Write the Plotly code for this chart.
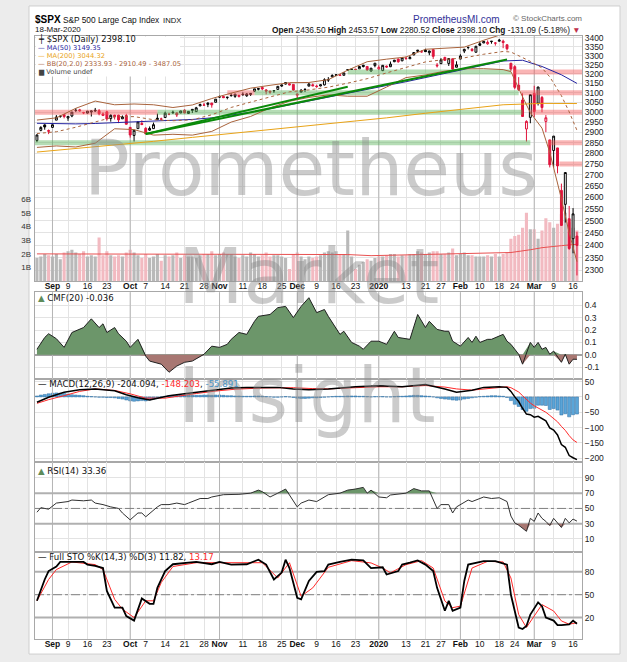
import numpy as np
import pandas as pd
import plotly.graph_objects as go

W, H = 627, 662

# trading days on the chart (market holidays removed)
HOLIDAYS = ["2019-11-28", "2019-12-25", "2020-01-01", "2020-01-20", "2020-02-17"]
DAYS = [d for d in pd.bdate_range("2019-08-28", "2020-03-18")
        if d.strftime("%Y-%m-%d") not in HOLIDAYS]
IDX = list(range(len(DAYS)))

OPEN = [2861.3, 2910.4, 2937.1, 2909.0, 2924.7, 2960.6, 2980.3, 2988.4, 2971.0, 2981.4,
        3009.1, 3012.2, 2996.4, 2995.7, 3001.5, 3010.4, 3008.4, 2983.5, 3002.4, 2968.4,
        2985.7, 2985.5, 2967.1, 2983.7, 2924.8, 2885.4, 2918.6, 2944.2, 2920.4, 2911.1,
        2918.6, 2963.1, 2965.8, 2973.6, 2989.7, 3000.8, 2996.8, 2996.5, 3010.7, 2994.0,
        3014.8, 3003.3, 3032.1, 3035.4, 3039.7, 3046.9, 3050.7, 3078.9, 3080.8, 3075.1,
        3087.0, 3081.3, 3080.3, 3089.3, 3084.2, 3090.8, 3107.9, 3117.9, 3127.5, 3114.7,
        3108.5, 3111.4, 3117.4, 3134.9, 3145.5, 3147.2, 3143.9, 3087.4, 3103.5, 3119.2,
        3134.6, 3141.9, 3135.4, 3135.8, 3141.2, 3166.7, 3183.6, 3195.4, 3195.2, 3192.3,
        3223.3, 3226.1, 3225.5, 3227.2, 3247.2, 3240.1, 3215.2, 3244.7, 3226.4, 3217.6,
        3241.9, 3238.6, 3266.0, 3281.0, 3271.1, 3285.4, 3282.3, 3303.0, 3323.7, 3321.0,
        3330.0, 3315.8, 3333.1, 3247.2, 3255.4, 3289.5, 3256.5, 3282.3, 3235.7, 3280.6,
        3324.9, 3344.9, 3335.5, 3318.3, 3365.9, 3370.5, 3365.9, 3378.1, 3369.0, 3380.4,
        3380.5, 3360.5, 3257.6, 3238.9, 3139.9, 3062.5, 2916.9, 2974.3, 3096.5, 3045.8,
        3075.7, 2954.2, 2863.9, 2813.5, 2825.6, 2630.9, 2570.0, 2508.6, 2425.7, 2436.5]
HIGH = [2890.0, 2930.5, 2940.4, 2914.4, 2938.8, 2985.9, 2985.0, 2989.4, 2979.4, 3000.9,
        3020.7, 3017.3, 3002.2, 3006.2, 3007.8, 3021.9, 3016.4, 2999.2, 3007.3, 2989.8,
        2987.3, 2987.3, 2983.9, 2992.5, 2924.8, 2911.1, 2953.7, 2959.8, 2925.5, 2929.3,
        2948.5, 2993.3, 2972.8, 3003.3, 2997.5, 3008.3, 3000.0, 3007.3, 3014.6, 3004.8,
        3016.1, 3027.4, 3044.1, 3047.9, 3050.1, 3046.9, 3066.9, 3085.2, 3083.9, 3078.3,
        3097.8, 3093.1, 3088.3, 3102.6, 3098.1, 3098.2, 3120.5, 3124.2, 3127.6, 3118.9,
        3110.1, 3112.9, 3133.8, 3142.7, 3154.3, 3150.3, 3144.3, 3094.1, 3119.4, 3119.5,
        3150.6, 3148.9, 3142.1, 3143.9, 3176.3, 3182.7, 3197.7, 3198.2, 3198.5, 3205.5,
        3225.7, 3227.8, 3226.4, 3240.1, 3247.9, 3240.9, 3231.7, 3258.1, 3246.2, 3246.8,
        3244.9, 3267.1, 3275.6, 3282.9, 3288.1, 3294.3, 3298.7, 3317.1, 3329.9, 3329.8,
        3337.8, 3326.9, 3333.2, 3258.8, 3285.8, 3293.5, 3285.9, 3282.3, 3268.4, 3306.9,
        3337.6, 3348.0, 3341.4, 3352.3, 3375.6, 3381.5, 3385.1, 3380.7, 3375.0, 3393.5,
        3389.2, 3360.8, 3259.8, 3247.0, 3182.5, 3097.1, 2959.7, 3091.0, 3136.7, 3131.0,
        3083.0, 2985.9, 2863.9, 2882.6, 2825.6, 2661.0, 2711.3, 2563.0, 2553.9, 2453.6]
LOW = [2853.1, 2905.7, 2913.3, 2891.9, 2921.9, 2960.6, 2972.5, 2969.4, 2957.0, 2975.3,
       3000.9, 3002.9, 2990.7, 2993.7, 2978.6, 3003.2, 2984.7, 2982.2, 2957.7, 2952.9,
       2963.7, 2945.5, 2967.1, 2938.7, 2874.9, 2855.9, 2918.6, 2935.7, 2892.7, 2907.4,
       2917.1, 2963.1, 2962.9, 2973.6, 2985.2, 2991.8, 2976.3, 2995.4, 2995.0, 2991.2,
       2996.0, 3001.9, 3032.1, 3034.8, 3025.9, 3023.2, 3050.7, 3074.9, 3072.2, 3065.9,
       3080.2, 3073.6, 3075.8, 3084.7, 3078.8, 3083.3, 3104.6, 3112.1, 3113.5, 3091.4,
       3094.6, 3099.3, 3117.4, 3131.0, 3143.4, 3139.3, 3110.8, 3070.3, 3102.5, 3103.8,
       3134.6, 3135.5, 3126.1, 3133.2, 3138.5, 3156.5, 3183.6, 3191.0, 3191.1, 3192.3,
       3216.0, 3222.3, 3220.5, 3227.2, 3234.4, 3216.6, 3212.0, 3235.5, 3222.3, 3214.6,
       3232.4, 3236.7, 3263.7, 3260.9, 3268.4, 3277.2, 3280.7, 3302.8, 3318.9, 3316.6,
       3320.0, 3301.9, 3281.5, 3234.5, 3253.2, 3271.9, 3242.8, 3214.7, 3235.7, 3280.6,
       3313.8, 3334.4, 3322.1, 3317.8, 3352.7, 3369.7, 3360.5, 3366.2, 3355.6, 3378.8,
       3341.0, 3328.5, 3214.7, 3118.8, 3109.0, 2977.4, 2855.8, 2945.2, 2976.6, 3034.4,
       2999.8, 2901.5, 2734.4, 2734.0, 2707.2, 2478.9, 2492.4, 2380.9, 2367.0, 2280.5]
CLOSE = [2887.9, 2924.6, 2926.5, 2906.3, 2937.8, 2976.0, 2978.7, 2978.4, 2979.4, 3000.9,
         3009.6, 3007.4, 2998.0, 3005.7, 3006.7, 3006.8, 2992.1, 2991.8, 2966.6, 2984.9,
         2977.6, 2961.8, 2976.7, 2940.3, 2887.6, 2910.6, 2952.0, 2938.8, 2893.1, 2919.4,
         2938.1, 2970.3, 2966.2, 2995.7, 2989.7, 2998.0, 2986.2, 3006.7, 2996.0, 3004.5,
         3010.3, 3022.6, 3039.4, 3036.9, 3046.8, 3037.6, 3066.9, 3078.3, 3074.6, 3076.8,
         3085.2, 3093.1, 3087.0, 3091.8, 3094.0, 3096.6, 3120.5, 3122.0, 3120.2, 3108.5,
         3103.5, 3110.3, 3133.6, 3140.5, 3153.6, 3141.0, 3113.9, 3093.2, 3112.8, 3117.4,
         3145.9, 3136.0, 3132.5, 3141.6, 3168.6, 3168.8, 3191.5, 3192.5, 3191.1, 3205.4,
         3221.2, 3224.0, 3223.4, 3239.9, 3240.0, 3221.3, 3230.8, 3257.9, 3234.9, 3246.3,
         3237.2, 3253.1, 3274.7, 3265.4, 3288.1, 3283.2, 3289.3, 3316.8, 3329.6, 3320.8,
         3321.8, 3325.5, 3295.5, 3243.6, 3276.2, 3273.4, 3283.7, 3225.5, 3248.9, 3297.6,
         3334.7, 3345.8, 3327.7, 3352.1, 3357.8, 3379.5, 3373.9, 3380.2, 3370.3, 3386.2,
         3373.2, 3337.8, 3225.9, 3128.2, 3116.4, 2978.8, 2954.2, 3090.2, 3003.4, 3130.1,
         3023.9, 2972.4, 2746.6, 2882.2, 2741.4, 2480.6, 2711.0, 2386.1, 2529.2, 2398.1]

# volume in billions
VOLUME = [1.7, 1.8, 2.0, 1.9, 1.8, 2.0, 1.6, 2.1, 2.2, 2.3,
          2.1, 2.0, 2.2, 1.8, 1.9, 1.8, 3.2, 1.9, 2.2, 1.9,
          1.8, 1.9, 1.8, 2.1, 2.3, 2.1, 1.9, 1.7, 2.0, 1.7,
          1.8, 2.0, 1.5, 1.9, 1.8, 1.9, 2.1, 1.7, 1.9, 1.8,
          1.8, 1.7, 1.9, 2.0, 2.0, 2.2, 1.9, 2.0, 2.1, 2.0,
          2.0, 1.8, 1.7, 1.9, 1.8, 2.1, 2.0, 1.8, 1.9, 2.1,
          1.8, 1.9, 1.9, 1.8, 1.7, 0.9, 2.0, 2.1, 1.8, 1.6,
          1.8, 1.7, 1.8, 1.9, 2.1, 2.2, 2.1, 2.2, 2.0, 2.0,
          3.7, 1.8, 0.9, 1.2, 1.4, 1.6, 1.5, 1.7, 1.8, 1.8,
          1.9, 2.0, 2.0, 1.8, 1.9, 1.9, 2.0, 2.0, 2.2, 2.1,
          2.0, 2.1, 2.2, 2.2, 2.0, 2.0, 2.1, 2.4, 1.9, 2.0,
          2.1, 1.9, 1.9, 1.8, 1.8, 1.8, 1.9, 1.8, 2.0, 1.8,
          2.0, 2.1, 3.1, 3.3, 3.4, 3.9, 5.0, 3.8, 3.8, 3.1,
          3.7, 4.6, 4.3, 3.9, 4.2, 4.9, 5.0, 4.3, 3.9, 3.7]
VMA_IDX = [0, 40, 80, 86, 100, 110, 122, 127, 130, 135, 139]
VMA = [2.0, 2.0, 1.95, 1.87, 1.95, 2.05, 2.1, 2.3, 2.45, 2.6, 2.7]

MA50_IDX = [0, 5, 10, 15, 20, 25, 30, 35, 40, 45, 50, 55, 60, 65, 70, 75, 80, 85, 90, 95,
            100, 105, 110, 115, 120, 125, 130, 135, 139]
MA50 = [2945, 2942, 2942, 2944, 2948, 2950, 2953, 2958, 2964, 2972, 2985, 3000, 3018, 3038,
        3058, 3080, 3100, 3120, 3138, 3158, 3180, 3200, 3222, 3245, 3270, 3274, 3240, 3195, 3149.35]
MA200_IDX = [0, 10, 20, 30, 40, 50, 60, 70, 80, 90, 100, 110, 120, 130, 139]
MA200 = [2806, 2822, 2840, 2857, 2876, 2895, 2913, 2931, 2950, 2972, 2995, 3018, 3038, 3045, 3044.32]

BB_IDX = [0, 5, 10, 15, 20, 25, 30, 35, 40, 45, 50, 55, 60, 65, 70, 75, 80, 85, 90, 95,
          100, 105, 110, 115, 120, 122, 125, 127, 130, 132, 135, 137, 139]
BB_UP = [2961, 2972, 3020, 3057, 3038, 3042, 3038, 3024, 3037, 3070, 3098, 3124, 3139, 3153,
         3154, 3169, 3220, 3266, 3280, 3292, 3335, 3341, 3347, 3386, 3422, 3428, 3504, 3538,
         3542, 3563, 3575, 3554, 3487.05]
BB_MID = [2894.7, 2903.4, 2925.4, 2952.4, 2977.8, 2978.1, 2962.8, 2957.6, 2962.1, 2987.4,
          3024.4, 3051.6, 3080.1, 3104.9, 3115.0, 3129.2, 3150.6, 3174.1, 3205.2, 3236.1,
          3264.9, 3278.2, 3287.4, 3307.3, 3322.6, 3319.7, 3291.2, 3268.0, 3231.8, 3184.1,
          3084.8, 3001.9, 2910.49]
BB_LO = [2828, 2835, 2830, 2848, 2918, 2914, 2887, 2891, 2887, 2905, 2951, 2979, 3022, 3056,
         3076, 3089, 3082, 3082, 3130, 3180, 3194, 3215, 3227, 3228, 3223, 3212, 3079, 2998,
         2921, 2805, 2594, 2450, 2333.93]

# drawn support / resistance zones and trend lines
BAND_LEVEL = [3210, 3100, 3000, 2850, 3000, 3100, 3210, 3100, 3000, 2850, 2750]
BAND_START = [80, 56, 31, -0.5, -0.5, 49, 122.5, 124.5, 127, 131.5, 134.5]
BAND_END = [122, 124, 125, 127, 31, 56, 140.3, 140.3, 140.3, 140.3, 140.3]
BAND_KIND = ["g", "g", "g", "g", "r", "r", "r", "r", "r", "r", "r"]
TREND_A_IDX = [28, 121]
TREND_A_PX = [2892.7, 3278]
TREND_B_IDX = [28, 80]
TREND_B_PX = [2892.7, 3131]

CMF_IDX = [0, 2, 3, 5, 7, 9, 12, 14, 16, 17, 18, 20, 21, 23, 24, 26, 28, 29, 32, 34,
           36, 38, 40, 43, 45, 47, 49, 50, 52, 54, 56, 57, 60, 62, 64, 66, 68, 70, 72, 74,
           75, 78, 79, 81, 83, 84, 86, 88, 90, 92, 93, 96, 98, 100, 101, 103, 105, 106, 107, 109,
           111, 112, 113, 114, 116, 117, 120, 121, 122, 124, 125, 127, 128, 129, 130, 131, 132, 133, 135, 136,
           137, 138, 139]
CMF = [0.045, 0.14, 0.17, 0.13, 0.06, 0.18, 0.22, 0.29, 0.22, 0.25, 0.18, 0.22, 0.17, 0.11, 0.06,
       0.125, -0.01, -0.05, -0.075, -0.14, -0.09, -0.06, -0.05, 0.005, 0.07, 0.06, 0.085, 0.125,
       0.18, 0.165, 0.27, 0.31, 0.325, 0.38, 0.39, 0.30, 0.39, 0.46, 0.34, 0.365, 0.31, 0.165,
       0.19, 0.10, 0.07, 0.045, 0.11, 0.11, 0.085, 0.19, 0.14, 0.125, 0.325, 0.22, 0.27, 0.205,
       0.19, 0.19, 0.11, 0.07, 0.14, 0.10, 0.15, 0.10, 0.125, 0.125, 0.165, 0.11, 0.085, 0.005,
       -0.075, 0.10, 0.06, 0.10, 0.045, 0.06, 0.005, 0.03, -0.06, 0.005, -0.075, -0.035, -0.036]

MACD_IDX = [0, 3, 7, 11, 15, 20, 23, 26, 29, 32, 34, 38, 41, 45, 50, 54, 58, 62, 66, 70,
            75, 82, 88, 94, 100, 105, 108, 112, 115, 119, 121, 122, 123, 124, 125, 126, 127, 128,
            129, 130, 131, 132, 133, 134, 135, 136, 137, 138, 139]
MACD = [-17.5, -1, 15, 23, 26, 20, 7, -3, -10, -2, 4, 10, 15, 22, 29, 31, 31, 31, 26, 23,
        26, 33, 36, 33, 40, 26, 15, 22, 31, 33, 31, 18, 0, -15, -37, -56, -58, -66, -63, -70,
        -78, -101, -108, -124, -155, -164, -191, -198, -204.094]
SIG_IDX = [0, 3, 7, 11, 15, 20, 24, 28, 33, 37, 41, 46, 51, 58, 66, 71, 75, 82, 88, 94,
           100, 105, 108, 112, 116, 120, 121, 122, 123, 124, 125, 126, 127, 128, 129, 130, 131,
           132, 133, 134, 135, 136, 137, 138, 139]
SIGNAL = [-21, -9, 4, 18, 26, 21, 10, -4, -4, 4, 11, 19, 25, 29, 30, 27, 26, 30, 33, 33,
          37, 32, 26, 22, 27, 31, 33, 30, 24, 16, 4, -9, -20, -29, -36, -43, -50, -60, -70,
          -81, -96, -109, -126, -140, -148.203]
HIST = [3, 6, 8, 10, 12, 13, 12, 11, 9,
        7, 6, 5, 4, 2, 1, 0, -1, -1, -2, -2, -3,
        -5, -7, -10, -13, -14, -13, -12, -13, -10, -7,
        -3, 0, 2, 4, 5, 5, 5, 6, 6, 5, 5, 5, 6, 6, 5,
        6, 6, 5, 4, 4, 3, 3, 2, 2, 2, 3, 3, 2, 1, 0,
        -1, -1, 0, 1, 0, -2, -4, -5, -5, -4, -3, -3, -2, -1, 0,
        1, 2, 2, 2, 3, 3, 3, 2, 2, 1, 0, 1, 1, 1, 0, 0, 1, 2, 2, 3, 4, 5, 5, 4, 3, 2, 0,
        -3, -5, -7, -8, -10, -11, -10, -7, -5, -3, -1,
        1, 2, 3, 4, 4, 3, 2,
        -2, -12, -24, -31, -41, -47, -38, -37, -27, -27, -28, -41, -38, -43, -59, -55, -65, -58, -55.891]

RSI_IDX = [0, 1, 3, 5, 8, 9, 12, 14, 15, 17, 19, 21, 22, 24, 26, 27, 28, 31, 32, 34,
           36, 38, 39, 42, 44, 45, 48, 50, 52, 55, 57, 58, 60, 62, 64, 65, 67, 68, 70, 72,
           74, 75, 78, 80, 82, 84, 85, 86, 88, 90, 91, 93, 95, 97, 99, 101, 103, 104, 106, 107,
           108, 111, 112, 115, 117, 119, 121, 122, 123, 124, 125, 126, 127, 128, 129, 130, 131, 132, 133, 134,
           135, 136, 137, 138, 139]
RSI = [45, 51, 49, 57, 59, 61, 60, 61, 57, 55, 52, 50, 44, 35, 44, 44, 39, 52, 55, 55,
       57, 55, 57, 63, 63, 65, 68, 68, 68.5, 70, 74, 72, 65, 70, 75.4, 67.6, 52, 57, 61, 59,
       65, 68, 70, 74, 75.4, 77.6, 70, 74, 65, 64, 67.6, 68.5, 70, 76, 73, 73, 50, 55, 55, 44,
       52, 61, 59, 65, 63, 64, 59, 40, 31, 28, 24, 20, 37, 33, 44, 37, 33, 27.6, 37, 31,
       25, 37, 31, 36, 33.36]

K_IDX = [0, 2, 3, 5, 6, 9, 12, 13, 15, 17, 18, 20, 22, 23, 25, 27, 29, 30, 31, 33,
         35, 39, 41, 45, 47, 50, 54, 57, 59, 61, 63, 64, 65, 67, 68, 70, 72, 74, 75, 78,
         81, 84, 86, 89, 90, 93, 94, 96, 98, 100, 102, 103, 105, 106, 107, 109, 110, 111, 113, 115,
         118, 121, 122, 124, 125, 126, 127, 129, 130, 131, 133, 134, 135, 137, 138, 139]
STO_K = [42, 70, 81, 87, 93, 93, 93, 89.5, 88, 85, 55, 33, 33, 22, 16, 45, 38, 38, 59, 81,
         90, 92, 93, 90, 93, 89.5, 90, 96, 89.5, 70, 79, 96, 85, 46, 44, 68, 80, 81, 89.5, 93,
         96, 95, 85, 86, 76.5, 81, 89.5, 92, 95, 89.5, 81, 59, 29, 42, 29, 33, 68, 89.5, 92, 94,
         94, 89.5, 50, 7, 5, 9, 24, 40, 35, 20, 16, 10, 10, 11, 16, 11.82]
D_IDX = [0, 3, 5, 9, 15, 17, 20, 22, 25, 28, 30, 32, 35, 41, 58, 62, 65, 68, 71, 74,
         75, 81, 86, 89, 91, 95, 99, 102, 105, 107, 109, 112, 116, 120, 122, 124, 126, 128, 130, 133,
         135, 137, 139]
STO_D = [42, 70, 83, 93, 89.5, 83, 44, 31, 20, 42, 42, 66, 87, 92, 92, 72, 92, 48, 59, 79,
         86, 94.7, 91.7, 85, 78.7, 89.5, 94.7, 85, 41.7, 33, 35, 85, 93.8, 93, 72, 24, 7, 22, 37, 28.6,
         15.6, 11.3, 13.17]

TICK_DATES = ["2019-09-03", "2019-09-09", "2019-09-16", "2019-09-23", "2019-10-01", "2019-10-07",
              "2019-10-14", "2019-10-21", "2019-10-28", "2019-11-01", "2019-11-11", "2019-11-18",
              "2019-11-25", "2019-12-02", "2019-12-09", "2019-12-16", "2019-12-23", "2020-01-02",
              "2020-01-13", "2020-01-21", "2020-01-27", "2020-02-03", "2020-02-10", "2020-02-18",
              "2020-02-24", "2020-03-02", "2020-03-09", "2020-03-16"]
TICK_TEXT = ["Sep", "9", "16", "23", "Oct", "7", "14", "21", "28", "Nov", "11", "18", "25", "Dec",
             "9", "16", "23", "2020", "13", "21", "27", "Feb", "10", "18", "24", "Mar", "9", "16"]
MONTH_LABELS = {"Sep", "Oct", "Nov", "Dec", "2020", "Feb", "Mar"}

# colours / fonts
SANS = "Liberation Sans, Arial, sans-serif"
VERD = "DejaVu Sans, Verdana, sans-serif"
GRID = "#e3e3e3"
MONTH_GRID = "#b4b4b4"
BORDER = "#a8a8a8"
RED = "#e0143c"
GREEN_FILL = "#6c966a"
BROWN_FILL = "#a87772"

# pixel layout of the panels
XL, XR = 35, 582
XRANGE = [-0.5, 140.3]


def px(v):
    return v / W


def py(v):
    return 1 - v / H


day_pos = {d.strftime("%Y-%m-%d"): i for i, d in enumerate(DAYS)}
tick_idx = [day_pos[d] for d in TICK_DATES]
tick_lbl = ["<b>%s</b>" % t if t in MONTH_LABELS else t for t in TICK_TEXT]
month_idx = [i for i, t in zip(tick_idx, TICK_TEXT) if t in MONTH_LABELS]

prev = [CLOSE[0]] + CLOSE[:-1]
up = [c >= p for c, p in zip(CLOSE, prev)]

fig = go.Figure()


def month_lines(xa, ya, lo, hi):
    # darker vertical line at each month start, under the panel's marks
    xs, ys = [], []
    for m in month_idx:
        xs += [m, m, None]
        ys += [lo, hi, None]
    fig.add_trace(go.Scatter(x=xs, y=ys, mode="lines", line=dict(color=MONTH_GRID, width=1),
                             xaxis=xa, yaxis=ya, hoverinfo="skip"))


def level_line(ya, lvl, color, width, dash="solid"):
    fig.add_trace(go.Scatter(x=XRANGE, y=[lvl, lvl], mode="lines",
                             line=dict(color=color, width=width, dash=dash),
                             xaxis="x", yaxis=ya, hoverinfo="skip"))


# price panel: volume on the left axis
month_lines("x", "y", -1, 20)
fig.add_trace(go.Bar(x=IDX, y=VOLUME, width=0.8,
                     marker=dict(color=["#b9b9b9" if u else "#f2bac1" for u in up], line_width=0),
                     xaxis="x", yaxis="y", hoverinfo="skip"))
fig.add_trace(go.Scatter(x=VMA_IDX, y=VMA, mode="lines", line=dict(color="#e85050", width=1),
                         xaxis="x", yaxis="y", hoverinfo="skip"))

for lvl, a, b, k in zip(BAND_LEVEL, BAND_START, BAND_END, BAND_KIND):
    col = "rgba(90,180,90,0.45)" if k == "g" else "rgba(245,90,90,0.45)"
    fig.add_trace(go.Scatter(x=[a, b], y=[lvl, lvl], mode="lines", line=dict(color=col, width=5),
                             xaxis="x", yaxis="y2", hoverinfo="skip"))

fig.add_trace(go.Scatter(x=MA200_IDX, y=MA200, mode="lines", line=dict(color="#e8a317", width=1),
                         xaxis="x", yaxis="y2", hoverinfo="skip"))
fig.add_trace(go.Scatter(x=MA50_IDX, y=MA50, mode="lines", line=dict(color="#2424a0", width=1),
                         xaxis="x", yaxis="y2", hoverinfo="skip"))
for band, dash in ((BB_UP, "solid"), (BB_LO, "solid"), (BB_MID, "dot")):
    fig.add_trace(go.Scatter(x=BB_IDX, y=band, mode="lines",
                             line=dict(color="#a8633c", width=1, dash=dash),
                             xaxis="x", yaxis="y2", hoverinfo="skip"))
for tx, ty in ((TREND_A_IDX, TREND_A_PX), (TREND_B_IDX, TREND_B_PX)):
    fig.add_trace(go.Scatter(x=tx, y=ty, mode="lines", line=dict(color="#0a8a0a", width=2),
                             xaxis="x", yaxis="y2", hoverinfo="skip"))

# candles: black when close >= previous close, red otherwise; hollow when close > open
for col, keep in (("#000000", up), (RED, [not u for u in up])):
    sel = lambda arr: [v if k else None for v, k in zip(arr, keep)]
    fig.add_trace(go.Candlestick(
        x=IDX, open=sel(OPEN), high=sel(HIGH), low=sel(LOW), close=sel(CLOSE),
        increasing=dict(line=dict(color=col, width=1), fillcolor="white"),
        decreasing=dict(line=dict(color=col, width=1), fillcolor=col),
        xaxis="x", yaxis="y2", hoverinfo="skip"))

# CMF
month_lines("x2", "y3", -1, 1)
fig.add_trace(go.Scatter(x=CMF_IDX, y=[max(v, 0) for v in CMF], mode="lines", line=dict(width=0),
                         fill="tozeroy", fillcolor=GREEN_FILL, xaxis="x2", yaxis="y3", hoverinfo="skip"))
fig.add_trace(go.Scatter(x=CMF_IDX, y=[min(v, 0) for v in CMF], mode="lines", line=dict(width=0),
                         fill="tozeroy", fillcolor=BROWN_FILL, xaxis="x2", yaxis="y3", hoverinfo="skip"))
fig.add_trace(go.Scatter(x=CMF_IDX, y=CMF, mode="lines", line=dict(color="#202020", width=1),
                         xaxis="x2", yaxis="y3", hoverinfo="skip"))

# MACD
month_lines("x", "y4", -300, 100)
fig.add_trace(go.Bar(x=IDX, y=HIST, width=0.8,
                     marker=dict(color="#5aa5d8", line=dict(color="#2a6aa0", width=0.5)),
                     xaxis="x", yaxis="y4", hoverinfo="skip"))
fig.add_trace(go.Scatter(x=SIG_IDX, y=SIGNAL, mode="lines", line=dict(color="#ff2a2a", width=1),
                         xaxis="x", yaxis="y4", hoverinfo="skip"))
fig.add_trace(go.Scatter(x=MACD_IDX, y=MACD, mode="lines", line=dict(color="#000000", width=1.5),
                         xaxis="x", yaxis="y4", hoverinfo="skip"))

# RSI with overbought / oversold shading
month_lines("x", "y5", -20, 120)
level_line("y5", 70, "#b0b0b0", 2)
level_line("y5", 30, "#b0b0b0", 2)
level_line("y5", 50, "#808080", 1, "dashdot")
for lvl, clip, col in ((70, max, GREEN_FILL), (30, min, BROWN_FILL)):
    fig.add_trace(go.Scatter(x=RSI_IDX, y=[lvl] * len(RSI_IDX), mode="lines", line=dict(width=0),
                             xaxis="x", yaxis="y5", hoverinfo="skip"))
    fig.add_trace(go.Scatter(x=RSI_IDX, y=[clip(v, lvl) for v in RSI], mode="lines",
                             line=dict(width=0), fill="tonexty", fillcolor=col,
                             xaxis="x", yaxis="y5", hoverinfo="skip"))
fig.add_trace(go.Scatter(x=RSI_IDX, y=RSI, mode="lines", line=dict(color="#303030", width=1),
                         xaxis="x", yaxis="y5", hoverinfo="skip"))

# Full stochastics
month_lines("x", "y6", -20, 120)
level_line("y6", 80, "#b0b0b0", 2)
level_line("y6", 20, "#b0b0b0", 2)
level_line("y6", 50, "#808080", 1, "dashdot")
fig.add_trace(go.Scatter(x=D_IDX, y=STO_D, mode="lines", line=dict(color="#ff2a2a", width=1),
                         xaxis="x", yaxis="y6", hoverinfo="skip"))
fig.add_trace(go.Scatter(x=K_IDX, y=STO_K, mode="lines", line=dict(color="#000000", width=1.8),
                         xaxis="x", yaxis="y6", hoverinfo="skip"))

tickfont = dict(family=SANS, size=8.5, color="#222")
yax = dict(showline=True, linecolor=BORDER, linewidth=1, mirror=True, ticks="", showgrid=True,
           gridcolor=GRID, gridwidth=1, zeroline=False, tickfont=tickfont, fixedrange=True,
           side="right", tickmode="array")
xax = dict(range=XRANGE, showline=True, linecolor=BORDER, linewidth=1, mirror="all", ticks="",
           showgrid=True, gridcolor=GRID, tickmode="array", tickvals=tick_idx, ticktext=tick_lbl,
           tickfont=dict(family=SANS, size=8.5, color="#111"), zeroline=False, fixedrange=True)

price_ticks = list(range(2300, 3401, 50))
fig.update_layout(
    width=W, height=H, autosize=False, margin=dict(l=0, r=0, t=0, b=0),
    paper_bgcolor="#ececec", plot_bgcolor="rgba(0,0,0,0)", showlegend=False,
    barmode="overlay",
    xaxis=dict(xax, domain=[px(XL), px(XR)], anchor="y6", rangeslider=dict(visible=False),
               ticklabelstandoff=-3),
    xaxis2=dict(xax, domain=[px(XL), px(XR)], anchor="y3", side="top", matches="x",
                ticklabelstandoff=-1),
    yaxis=dict(domain=[py(280), py(33)], range=[0, 17.9], side="left", showgrid=False,
               showline=False, zeroline=False, ticks="", tickmode="array",
               tickvals=[1, 2, 3, 4, 5, 6], ticktext=["1B", "2B", "3B", "4B", "5B", "6B"],
               tickfont=dict(family=SANS, size=8, color="#333"), anchor="x", fixedrange=True,
               ticklabelstandoff=3),
    yaxis2=dict(yax, overlaying="y", anchor="x", type="log", range=[3.35375, 3.53293],
                tickvals=price_ticks, ticktext=[str(v) for v in price_ticks]),
    yaxis3=dict(yax, domain=[py(378), py(291)], anchor="x2", range=[-0.192, 0.504],
                tickvals=[0.4, 0.3, 0.2, 0.1, 0.0, -0.1],
                ticktext=["0.4", "0.3", "0.2", "0.1", "0.0", "-0.1"],
                zeroline=True, zerolinecolor="#a0a0a0", zerolinewidth=2),
    yaxis4=dict(yax, domain=[py(462), py(378)], anchor="x", range=[-212.6, 59.2],
                tickvals=[50, 0, -50, -100, -150, -200]),
    yaxis5=dict(yax, domain=[py(552), py(462)], anchor="x", range=[-6.7, 110.6],
                tickvals=[90, 70, 50, 30, 10]),
    yaxis6=dict(yax, domain=[py(640), py(552)], anchor="x", range=[-8.3, 106.5],
                tickvals=[80, 50, 20]),
)

fig.update_layout(shapes=[
    dict(type="rect", xref="paper", yref="paper", x0=px(29), x1=px(620), y0=py(655), y1=py(3),
         fillcolor="white", line=dict(color="#cfcfcf", width=1), layer="below"),
    # white legend box in the price panel
    dict(type="rect", xref="paper", yref="paper", x0=px(36), x1=px(180), y0=py(74), y1=py(34),
         fillcolor="white", line=dict(width=0), layer="above"),
])


def note(x, y, text, size, color="#000", family=SANS, anchor="left"):
    fig.add_annotation(x=px(x), y=py(y), xref="paper", yref="paper", text=text, showarrow=False,
                       xanchor=anchor, yanchor="middle", borderpad=0,
                       font=dict(family=family, size=size, color=color))


# watermark
wm = "rgba(140,140,140,0.45)"
note(83, 167, "Prometheus", 76, wm, VERD)
note(177, 275, "Market", 76, wm, VERD)
note(177, 395, "Insight", 76, wm, VERD)

# header
note(34, 17, "<b>$SPX</b>", 10)
note(62, 17.5, "S&P 500 Large Cap Index", 8.3, "#111")
note(162, 17.5, "INDX", 7.7, "#111")
note(34, 27, "18-Mar-2020", 8, "#111")
note(412, 17, "PrometheusMI.com", 10, "#333399")
note(512, 16, "© StockCharts.com", 8, "#666")
note(582, 27, "<b>Open</b> 2436.50 <b>High</b> 2453.57 <b>Low</b> 2280.52 <b>Close</b> 2398.10 "
              "<b>Chg</b> -131.09 (-5.18%) <span style='color:#c0304a'>▼</span>",
     8.3, "#111", anchor="right")

# price panel legend
note(37, 37, "┿ $SPX (Daily) 2398.10", 8.4, "#111", VERD)
note(37, 45.3, "— MA(50) 3149.35", 6.7, "#2424a0", VERD)
note(37, 53.5, "— MA(200) 3044.32", 6.7, "#e8a317", VERD)
note(37, 61.7, "— BB(20,2.0) 2333.93 - 2910.49 - 3487.05", 6.7, "#a8633c", VERD)
note(37, 69.5, "▆ Volume undef", 6.7, "#444", VERD)

# indicator legends
note(37, 297, "<span style='color:#5e8c5a'>▲</span> CMF(20) -0.036", 8.6, "#111", VERD)
note(37, 383.5, "— MACD(12,26,9) -204.094, <span style='color:#ff2a2a'>-148.203</span>, "
                "<span style='color:#4a95c8'>-55.891</span>", 8.6, "#111", VERD)
note(37, 471, "<span style='color:#5e8c5a'>▲</span> RSI(14) 33.36", 8.6, "#111", VERD)
note(37, 557.5, "— Full STO %K(14,3) %D(3) 11.82, <span style='color:#ff2a2a'>13.17</span>",
     8.6, "#111", VERD)

# the page body has a default 8px margin; drop it so the chart fills the window
fig.write_html("out.html", config=dict(displayModeBar=False),
               post_script="document.body.style.margin='0px';")
